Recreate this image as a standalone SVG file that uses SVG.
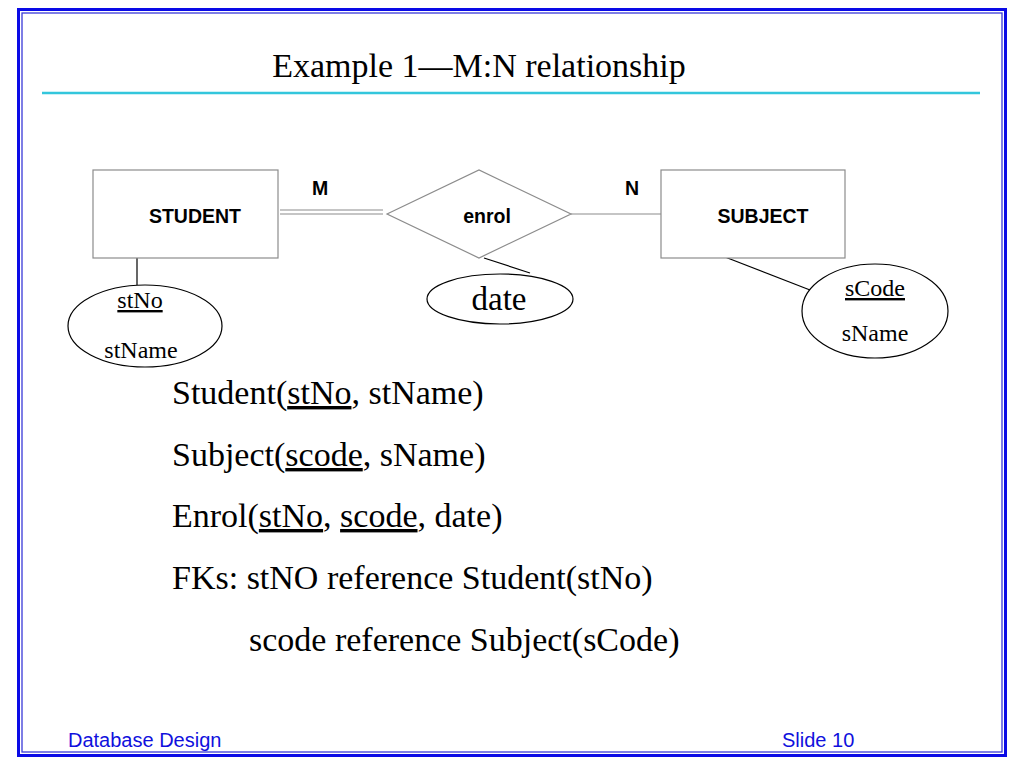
<svg xmlns="http://www.w3.org/2000/svg" width="1024" height="768" viewBox="0 0 1024 768">
<style>
.ent{fill:#fff;stroke:#8c8c8c;stroke-width:1.2}
.attr{fill:#fff;stroke:#000;stroke-width:1.2}
.ln{stroke:#000;stroke-width:1.2;fill:none}
.gl{stroke:#8c8c8c;stroke-width:1.2;fill:none}
.lab{font-family:"Liberation Sans",Arial,sans-serif;font-weight:bold;font-size:19.5px;fill:#000}
.ser{font-family:"Liberation Serif","Times New Roman",serif;fill:#000}
.big{font-size:34px}
.att{font-size:24px}
.foot{font-family:"Liberation Sans",Arial,sans-serif;font-size:20px;fill:#1010dd}
</style>
<rect width="1024" height="768" fill="#fff"/>
<rect x="18.5" y="9.5" width="987" height="746" fill="none" stroke="#0a0ae6" stroke-width="3"/>
<rect x="22" y="13" width="980" height="739" fill="none" stroke="#3a3ad8" stroke-width="1.3"/>
<line x1="42" y1="93" x2="980" y2="93" stroke="#33c6dc" stroke-width="2.5"/>
<text class="ser" x="479" y="77" font-size="34" text-anchor="middle">Example 1—M:N relationship</text>

<g id="connectors">
<line class="gl" x1="280" y1="210" x2="383" y2="210" stroke="#000"/>
<line class="gl" x1="280" y1="214" x2="383" y2="214" stroke="#000"/>
<line class="gl" x1="571" y1="214" x2="661" y2="214"/>
<line class="ln" x1="137" y1="258" x2="137" y2="285"/>
<line class="ln" x1="484" y1="258" x2="530" y2="273"/>
<line class="ln" x1="725" y1="257" x2="810" y2="290"/>
<text class="lab" x="320" y="195" text-anchor="middle">M</text>
<text class="lab" x="632" y="195" text-anchor="middle">N</text>
</g>

<g id="student">
<rect class="ent" x="93" y="170" width="185" height="88"/>
<text class="lab" x="195" y="223" text-anchor="middle">STUDENT</text>
</g>
<g id="enrol">
<polygon class="ent" points="387,214 479,170 571,214 479,258"/>
<text class="lab" x="487" y="223" text-anchor="middle">enrol</text>
</g>
<g id="subject">
<rect class="ent" x="661" y="170" width="184" height="88"/>
<text class="lab" x="763" y="223" text-anchor="middle">SUBJECT</text>
</g>
<g id="student-attrs">
<ellipse class="attr" cx="145" cy="326" rx="77" ry="41"/>
<text class="ser att" x="140" y="308" text-anchor="middle" text-decoration="underline">stNo</text>
<text class="ser att" x="141" y="358" text-anchor="middle">stName</text>
</g>
<g id="date">
<ellipse class="attr" cx="500" cy="299" rx="73" ry="25"/>
<text class="ser" x="499" y="310" font-size="33" text-anchor="middle">date</text>
</g>
<g id="subject-attrs">
<ellipse class="attr" cx="875" cy="311" rx="73" ry="47"/>
<text class="ser att" x="875" y="296" font-size="25" text-anchor="middle" text-decoration="underline">sCode</text>
<text class="ser att" x="875" y="341" font-size="25" text-anchor="middle">sName</text>
</g>

<g id="schema">
<text class="ser big" x="172" y="404">Student(<tspan text-decoration="underline">stNo</tspan>, stName)</text>
<text class="ser big" x="172" y="466">Subject(<tspan text-decoration="underline">scode</tspan>, sName)</text>
<text class="ser big" x="172" y="527">Enrol(<tspan text-decoration="underline">stNo</tspan>, <tspan text-decoration="underline">scode</tspan>, date)</text>
<text class="ser big" x="172" y="589">FKs: stNO reference Student(stNo)</text>
<text class="ser big" x="249" y="651">scode reference Subject(sCode)</text>
</g>

<text class="foot" x="68" y="747">Database Design</text>
<text class="foot" x="782" y="747">Slide 10</text>
</svg>
